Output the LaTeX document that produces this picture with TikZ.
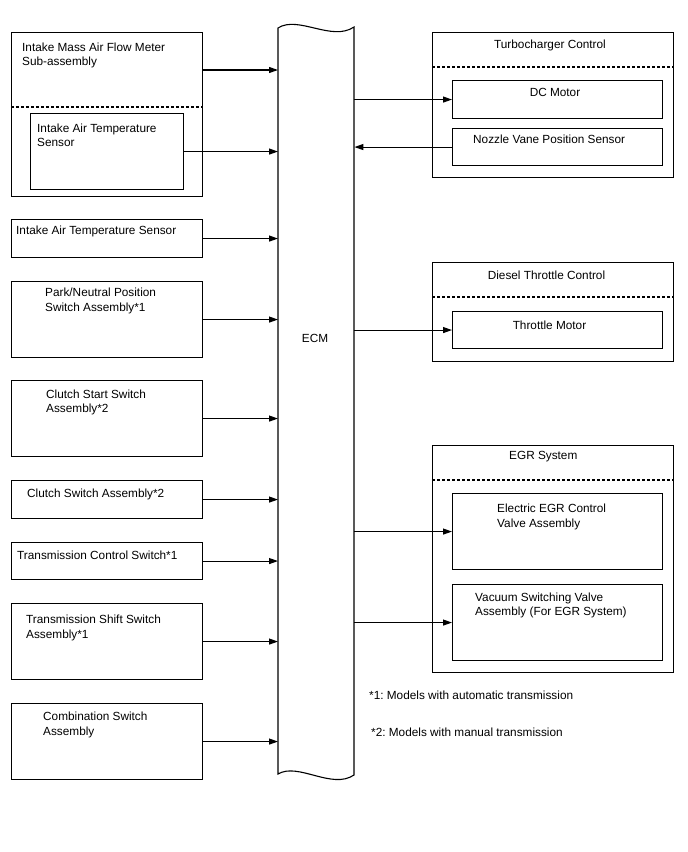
\documentclass[tikz,border=0pt]{standalone}
\usepackage{fontspec}
\setmainfont{Liberation Sans}
\usetikzlibrary{arrows.meta}
\frenchspacing
\begin{document}
\begin{tikzpicture}[x=1pt,y=-1pt,
  box/.style={draw, line width=1.1pt, rectangle, inner sep=0pt, anchor=north west},
  lbl/.style={inner sep=0pt, anchor=west, align=left, font=\fontsize{11.8}{14.5}\selectfont},
  ctr/.style={inner sep=0pt, font=\fontsize{11.8}{14.5}\selectfont},
  arr/.style={line width=1.1pt, -{Triangle[length=9pt,width=6pt]}},
  dsh/.style={line width=1.1pt, dash pattern=on 3pt off 2pt}]
\useasboundingbox (0,0) rectangle (688,852);

% ECM
\node[inner sep=0pt, minimum width=76pt, minimum height=747pt, anchor=north west] (ecm) at (278,27) {};
\draw[line width=1.1pt] (278,28) .. controls (298,15) and (332,42) .. (354,27)
  -- (354,775) .. controls (332,790) and (298,762) .. (278,774) -- cycle;
\node[ctr] (ecmlbl) at (315,338) {ECM};

% left boxes
\node[box, minimum width=191pt, minimum height=164pt] (imaf) at (11,32) {};
\node[box, minimum width=153pt, minimum height=76pt] (iatin) at (30,113) {};
\node[box, minimum width=191pt, minimum height=38pt] (iat) at (11,219) {};
\node[box, minimum width=191pt, minimum height=76pt] (pnp) at (11,281) {};
\node[box, minimum width=191pt, minimum height=76pt] (css) at (11,380) {};
\node[box, minimum width=191pt, minimum height=38pt] (csw) at (11,480) {};
\node[box, minimum width=191pt, minimum height=37pt] (tcs) at (11,542) {};
\node[box, minimum width=191pt, minimum height=76pt] (tss) at (11,603) {};
\node[box, minimum width=191pt, minimum height=76pt] (cmb) at (11,703) {};

% right boxes
\node[box, minimum width=241pt, minimum height=145pt] (turbo) at (432,32) {};
\node[box, minimum width=210pt, minimum height=38pt] (dcm) at (452,80) {};
\node[box, minimum width=210pt, minimum height=37pt] (nvp) at (452,128) {};
\node[box, minimum width=241pt, minimum height=99pt] (dtc) at (432,262) {};
\node[box, minimum width=210pt, minimum height=37pt] (thm) at (452,311) {};
\node[box, minimum width=241pt, minimum height=227pt] (egr) at (432,445) {};
\node[box, minimum width=210pt, minimum height=76pt] (eev) at (452,493) {};
\node[box, minimum width=210pt, minimum height=76pt] (vsv) at (452,584) {};

% dashed separators
\coordinate (d1) at (0,107);
\coordinate (d2) at (0,67);
\coordinate (d3) at (0,297);
\coordinate (d4) at (0,480);
\draw[dsh] (imaf.west |- d1) -- (imaf.east |- d1);
\draw[dsh] (turbo.west |- d2) -- (turbo.east |- d2);
\draw[dsh] (dtc.west |- d3) -- (dtc.east |- d3);
\draw[dsh] (egr.west |- d4) -- (egr.east |- d4);

% texts
\node[lbl] (t1) at (22,55.5) {Intake Mass Air Flow Meter\\Sub-assembly};
\node[lbl] (t2) at (37,135.5) {Intake Air Temperature\\Sensor};
\node[lbl] (t3) at (16,231) {Intake Air Temperature Sensor};
\node[lbl] (t4) at (45,301) {Park/Neutral Position\\Switch Assembly*1};
\node[lbl] (t5) at (46,402.5) {Clutch Start Switch\\Assembly*2};
\node[lbl] (t6) at (27,494) {Clutch Switch Assembly*2};
\node[lbl] (t7) at (17,555) {Transmission Control Switch*1};
\node[lbl] (t8) at (26,628) {Transmission Shift Switch\\Assembly*1};
\node[lbl] (t9) at (43,725) {Combination Switch\\Assembly};
\node[ctr] (t10) at (550,45) {Turbocharger Control};
\node[ctr] (t11) at (555,92) {DC Motor};
\node[lbl] (t12) at (473,139) {Nozzle Vane Position Sensor};
\node[ctr] (t13) at (546.5,275) {Diesel Throttle Control};
\node[ctr] (t14) at (549.5,325) {Throttle Motor};
\node[lbl] (t15) at (509,457) {EGR System};
\node[lbl] (t16) at (497,517) {Electric EGR Control\\Valve Assembly};
\node[lbl] (t17) at (475,605.5) {Vacuum Switching Valve\\Assembly (For EGR System)};
\node[lbl] (f1) at (369,695) {*1: Models with automatic transmission};
\node[lbl] (f2) at (371,732) {*2: Models with manual transmission};

% connectors
\coordinate (a70) at (0,70);
\draw[arr] (imaf.east |- a70) -- (ecm.west |- a70);
\draw[arr] (iatin.east) -- (iatin.east -| ecm.west);
\draw[arr] (iat.east) -- (iat.east -| ecm.west);
\draw[arr] (pnp.east) -- (pnp.east -| ecm.west);
\draw[arr] (css.east) -- (css.east -| ecm.west);
\draw[arr] (csw.east) -- (csw.east -| ecm.west);
\draw[arr] (tcs.east) -- (tcs.east -| ecm.west);
\draw[arr] (tss.east) -- (tss.east -| ecm.west);
\draw[arr] (cmb.east) -- (cmb.east -| ecm.west);
\draw[arr] (ecm.east |- dcm.west) -- (dcm.west);
\draw[arr] (nvp.west) -- (ecm.east |- nvp.west);
\draw[arr] (ecm.east |- thm.west) -- (thm.west);
\draw[arr] (ecm.east |- eev.west) -- (eev.west);
\draw[arr] (ecm.east |- vsv.west) -- (vsv.west);
\end{tikzpicture}
\end{document}
